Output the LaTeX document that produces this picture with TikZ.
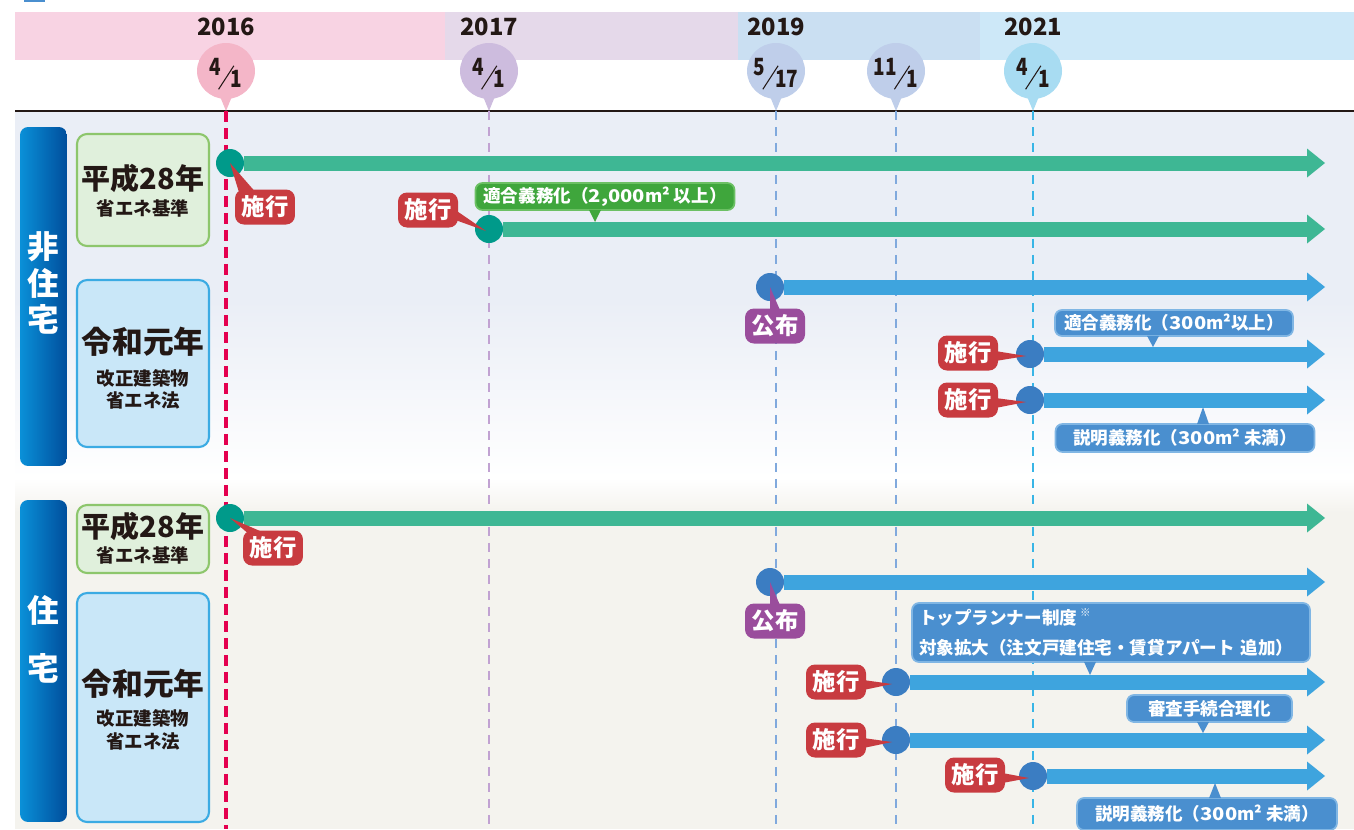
\documentclass[tikz,border=0pt]{standalone}
\usepackage{fontspec}
\setmainfont{Noto Sans CJK JP}
\usetikzlibrary{arrows.meta,calc,shapes.geometric,positioning}

\definecolor{bandA}{HTML}{F8D3E3}
\definecolor{bandB}{HTML}{E5D9EA}
\definecolor{bandC}{HTML}{CADFF2}
\definecolor{bandD}{HTML}{CDE8F8}
\definecolor{balA}{HTML}{F4B6C8}
\definecolor{balB}{HTML}{CDBCDE}
\definecolor{balC}{HTML}{BFCEEA}
\definecolor{balD}{HTML}{A8DCF2}
\definecolor{lnA}{HTML}{E4004F}
\definecolor{lnB}{HTML}{C1A2D2}
\definecolor{lnC}{HTML}{80A9DD}
\definecolor{lnD}{HTML}{38B5E6}
\definecolor{bgBlue}{HTML}{EAEEF6}
\definecolor{bgBeige}{HTML}{F4F3EE}
\definecolor{catL}{HTML}{0A90D8}
\definecolor{catR}{HTML}{004E9C}
\definecolor{gboxF}{HTML}{E0F0DC}
\definecolor{gboxD}{HTML}{8DC66C}
\definecolor{bboxF}{HTML}{C9E7F8}
\definecolor{bboxD}{HTML}{3BABE3}
\definecolor{garC}{HTML}{3EB794}
\definecolor{gdotC}{HTML}{009A8A}
\definecolor{barC}{HTML}{3EA4DE}
\definecolor{bdotC}{HTML}{3B7DC2}
\definecolor{shkC}{HTML}{C83B40}
\definecolor{kfuC}{HTML}{9A4D9C}
\definecolor{gcalC}{HTML}{3FA63C}
\definecolor{gcalD}{HTML}{6CC064}
\definecolor{bcalC}{HTML}{4A8FCF}
\definecolor{bcalD}{HTML}{80B6E4}
\definecolor{ink}{HTML}{231815}

% month/day as a slanted fraction
\newcommand{\mday}[2]{\raisebox{.5em}{\scalebox{.8}[1]{#1}}\kern-.12em\raisebox{-.04cm}{\rotatebox{57}{\rule{.56cm}{.6pt}}}\kern-.14em\scalebox{.8}[1]{#2}}
\newcommand{\widenum}[1]{\scalebox{1.15}[1]{#1}}

\begin{document}
\begin{tikzpicture}[x=0.02cm, y=-0.02cm,
        yr/.style={font=\bfseries\fontsize{13.5}{13.5}\selectfont, text=ink},
        bal/.style={ellipse, minimum width=1.16cm, minimum height=1.12cm, inner sep=0pt},
        dt/.style={inner sep=0pt, font=\bfseries\fontsize{13.5}{13.5}\selectfont, text=ink},
        catbar/.style={rectangle, rounded corners=0.16cm, minimum width=0.94cm, left color=catL, right color=catR},
        cattx/.style={text=white, align=center},
        gbox/.style={rectangle, rounded corners=0.2cm, draw=gboxD, fill=gboxF, line width=1.2pt, minimum width=2.64cm},
        bbox/.style={rectangle, rounded corners=0.2cm, draw=bboxD, fill=bboxF, line width=1.2pt, minimum width=2.64cm},
        big/.style={text=ink, font=\bfseries\fontsize{16.5}{16.5}\selectfont},
        bigr/.style={text=ink, font=\bfseries\fontsize{17.5}{17.5}\selectfont},
        sml/.style={text=ink, font=\bfseries\fontsize{10.5}{10.5}\selectfont},
        gdot/.style={circle, fill=gdotC, minimum size=0.56cm, inner sep=0pt},
        bdot/.style={circle, fill=bdotC, minimum size=0.56cm, inner sep=0pt},
        garr/.style={line width=0.3cm, draw=garC, -{Triangle[width=0.58cm,length=0.36cm,line width=0pt]}},
        barr/.style={line width=0.3cm, draw=barC, -{Triangle[width=0.58cm,length=0.36cm,line width=0pt]}},
        shk/.style={rectangle, rounded corners=0.18cm, fill=shkC, text=white, font=\bfseries\fontsize{13.3}{13.3}\selectfont, minimum width=1.2cm, minimum height=0.7cm, inner sep=0pt},
        kfu/.style={shk, fill=kfuC},
        gcall/.style={rectangle, rounded corners=0.14cm, fill=gcalC, draw=gcalD, line width=1pt, text=white, font=\bfseries\fontsize{10}{10}\selectfont, inner sep=0pt},
        bcall/.style={gcall, fill=bcalC, draw=bcalD},
        vl/.style={dash pattern=on 0.18cm off 0.14cm, line width=1.1pt}
    ]
    \useasboundingbox (0,0) rectangle (1354,829);

    %% ---- backgrounds ----
    \fill[bcalC] (24,0) rectangle (45,1.5);
    \fill[bandA] (15,12) rectangle (445,60);
    \fill[bandB] (445,12) rectangle (738,60);
    \fill[bandC] (738,12) rectangle (980,60);
    \fill[bandD] (980,12) rectangle (1354,60);
    \fill[bgBlue] (15,111) rectangle (1354,300);
    \shade[top color=bgBlue, bottom color=white] (15,300) rectangle (1354,478);
    \shade[top color=white, bottom color=bgBeige] (15,478) rectangle (1354,512);
    \fill[bgBeige] (15,512) rectangle (1354,829);
    \draw[line width=0.04cm, ink] (15,111) -- (1354,111);

    %% ---- years and dates ----
    \node[yr] (y16) at (226,27) {2016};
    \node[yr] (y17) at (489,27) {2017};
    \node[yr] (y19) at (776,27) {2019};
    \node[yr] (y21) at (1033,27) {2021};

    \node[bal, fill=balA] (m1) at (226,71) {};
    \node[bal, fill=balB] (m2) at (489,71) {};
    \node[bal, fill=balC] (m3) at (776,71) {};
    \node[bal, fill=balC] (m4) at (896,71) {};
    \node[bal, fill=balD] (m5) at (1033,71) {};
    \coordinate (t1) at (226,111);  \coordinate (b1) at (226,829);
    \coordinate (t2) at (489,111);  \coordinate (b2) at (489,829);
    \coordinate (t3) at (776,111);  \coordinate (b3) at (776,829);
    \coordinate (t4) at (896,111);  \coordinate (b4) at (896,829);
    \coordinate (t5) at (1033,111); \coordinate (b5) at (1033,829);
    \fill[balA] ($(m1.south)+(-6,-3)$) -- (t1) -- ($(m1.south)+(6,-3)$) -- cycle;
    \fill[balB] ($(m2.south)+(-6,-3)$) -- (t2) -- ($(m2.south)+(6,-3)$) -- cycle;
    \fill[balC] ($(m3.south)+(-6,-3)$) -- (t3) -- ($(m3.south)+(6,-3)$) -- cycle;
    \fill[balC] ($(m4.south)+(-6,-3)$) -- (t4) -- ($(m4.south)+(6,-3)$) -- cycle;
    \fill[balD] ($(m5.south)+(-6,-3)$) -- (t5) -- ($(m5.south)+(6,-3)$) -- cycle;
    \node[dt] at ($(m1)+(0,3)$) {\mday{4}{1}};
    \node[dt] at ($(m2)+(0,3)$) {\mday{4}{1}};
    \node[dt] at ($(m3)+(0,3)$) {\mday{5}{17}};
    \node[dt] at ($(m4)+(0,3)$) {\mday{11}{1}};
    \node[dt] at ($(m5)+(0,3)$) {\mday{4}{1}};

    % dashed date lines
    \draw[vl, lnA, line width=2.3pt, dash pattern=on 0.22cm off 0.12cm] (t1) -- (b1);
    \draw[vl, lnB] (t2) -- (b2);
    \draw[vl, lnC] (t3) -- (b3);
    \draw[vl, lnC] (t4) -- (b4);
    \draw[vl, lnD] (t5) -- (b5);

    %% ---- left column ----
    \node[catbar, minimum height=6.78cm] (nj) at (43.5,296.5) {};
    \node[cattx, font=\bfseries\fontsize{18}{21}\selectfont] at (43.5,283) {非\\住\\宅};
    \node[catbar, minimum height=6.44cm] (jt) at (43.5,661) {};
    \node[cattx, font=\bfseries\fontsize{18}{33}\selectfont] at (43.5,639) {住\\宅};

    \node[gbox, minimum height=2.24cm] (g1) at (143,190) {};
    \node[big] at (143,178) {平成28年};
    \node[sml] at (143,208) {省エネ基準};
    \node[bbox, minimum height=3.34cm] (r1) at (143,363.5) {};
    \node[bigr] at (143,342) {令和元年};
    \node[sml] at (143,378) {改正建築物};
    \node[sml] at (143,400) {省エネ法};

    \node[gbox, minimum height=1.36cm] (g2) at (143,539) {};
    \node[big] at (143,526) {平成28年};
    \node[sml] at (143,555) {省エネ基準};
    \node[bbox, minimum height=4.58cm] (r2) at (143,707.5) {};
    \node[bigr] at (143,684) {令和元年};
    \node[sml] at (143,718) {改正建築物};
    \node[sml] at (143,741) {省エネ法};

    %% ======== non-residential ========
    \coordinate (e1) at (1325,163);
    \coordinate (e2) at (1325,229);
    \coordinate (e3) at (1325,287);
    \coordinate (e4) at (1325,354);
    \coordinate (e5) at (1325,400);
    \node[gdot] (d1) at (230,163) {};
    \node[gdot] (d2) at (489,229) {};
    \node[bdot] (d3) at (770,287) {};
    \node[bdot] (d4) at (1030,354) {};
    \node[bdot] (d5) at (1030,400) {};
    \draw[garr] (d1) -- (e1);
    \draw[garr] (d2) -- (e2);
    \draw[barr] (d3) -- (e3);
    \draw[barr] (d4) -- (e4);
    \draw[barr] (d5) -- (e5);

    % labels
    \node[shk] (s1) at (265,207) {施行};
    \fill[shkC] (d1.center) -- ($(s1.north west)+(4,2)$) -- ($(s1.north west)+(20,2)$) -- cycle;
    \node[shk] (s2) at (428,210) {施行};
    \fill[shkC] ($(s2.east)+(-3,0)$) -- ($(d2.center)+(-3,2)$) -- ($(s2.east)+(-3,10)$) -- cycle;
    \node[kfu] (k1) at (775,326) {公布};
    \fill[kfuC] ($(k1.north)+(-5,2)$) -- (d3.center) -- ($(k1.north)+(5,2)$) -- cycle;
    \node[shk] (s3) at (968,353) {施行};
    \fill[shkC] ($(s3.east)+(-3,-2)$) -- ($(d4.center)+(-4,2)$) -- ($(s3.east)+(-3,8)$) -- cycle;
    \node[shk] (s4) at (968,400) {施行};
    \fill[shkC] ($(s4.east)+(-3,-2)$) -- ($(d5.center)+(-4,2)$) -- ($(s4.east)+(-3,8)$) -- cycle;

    % callouts
    \node[gcall, minimum width=5.18cm, minimum height=0.54cm] (c1) at (605,196.5) {適合義務化（\widenum{2,000}m² 以上）};
    \coordinate (p1) at (595,222);
    \fill[gcalC] ($(p1 |- c1.south)+(-6,-1)$) -- (p1) -- ($(p1 |- c1.south)+(6,-1)$) -- cycle;
    \node[bcall, minimum width=4.76cm, minimum height=0.52cm] (c2) at (1174,323) {適合義務化（\widenum{300}m²以上）};
    \coordinate (p2) at (1153,347);
    \fill[bcalC] ($(p2 |- c2.south)+(-6,-1)$) -- (p2) -- ($(p2 |- c2.south)+(6,-1)$) -- cycle;
    \node[bcall, minimum width=5.18cm, minimum height=0.56cm] (c3) at (1185,438) {説明義務化（\widenum{300}m² 未満）};
    \coordinate (p3) at (1203,407);
    \fill[bcalC] ($(p3 |- c3.north)+(-6,1)$) -- (p3) -- ($(p3 |- c3.north)+(6,1)$) -- cycle;

    %% ======== residential ========
    \coordinate (e6) at (1325,518);
    \coordinate (e7) at (1325,582);
    \coordinate (e8) at (1325,682);
    \coordinate (e9) at (1325,740);
    \coordinate (e10) at (1325,776);
    \node[gdot] (d6) at (230,518) {};
    \node[bdot] (d7) at (770,582) {};
    \node[bdot] (d8) at (896,682) {};
    \node[bdot] (d9) at (896,740) {};
    \node[bdot] (d10) at (1033,776) {};
    \draw[garr] (d6) -- (e6);
    \draw[barr] (d7) -- (e7);
    \draw[barr] (d8) -- (e8);
    \draw[barr] (d9) -- (e9);
    \draw[barr] (d10) -- (e10);

    % labels
    \node[shk] (s5) at (273,548) {施行};
    \fill[shkC] (d6.center) -- ($(s5.north west)+(4,2)$) -- ($(s5.north west)+(20,2)$) -- cycle;
    \node[kfu] (k2) at (775,621) {公布};
    \fill[kfuC] ($(k2.north)+(-5,2)$) -- (d7.center) -- ($(k2.north)+(5,2)$) -- cycle;
    \node[shk] (s6) at (836,682) {施行};
    \fill[shkC] ($(s6.east)+(-3,-2)$) -- ($(d8.center)+(-4,2)$) -- ($(s6.east)+(-3,8)$) -- cycle;
    \node[shk] (s7) at (836,740) {施行};
    \fill[shkC] ($(s7.east)+(-3,-2)$) -- ($(d9.center)+(-4,2)$) -- ($(s7.east)+(-3,8)$) -- cycle;
    \node[shk] (s8) at (975,775) {施行};
    \fill[shkC] ($(s8.east)+(-3,-2)$) -- ($(d10.center)+(-4,2)$) -- ($(s8.east)+(-3,8)$) -- cycle;

    % callouts
    \node[bcall, minimum width=7.96cm, minimum height=1.18cm, text width=7.68cm, align=left,
          font=\bfseries\fontsize{10}{17}\selectfont] (c4) at (1111,632.5)
          {トップランナー制度\,\raisebox{.5em}{\fontsize{6}{6}\selectfont ※}\\対象拡大（注文戸建住宅・賃貸アパート 追加）};
    \coordinate (p4) at (1090,675);
    \fill[bcalC] ($(p4 |- c4.south)+(-6,-1)$) -- (p4) -- ($(p4 |- c4.south)+(6,-1)$) -- cycle;
    \node[bcall, minimum width=3.3cm, minimum height=0.54cm] (c5) at (1209.5,708.5) {審査手続合理化};
    \coordinate (p5) at (1203,733);
    \fill[bcalC] ($(p5 |- c5.south)+(-6,-1)$) -- (p5) -- ($(p5 |- c5.south)+(6,-1)$) -- cycle;
    \node[bcall, minimum width=5.2cm, minimum height=0.64cm] (c6) at (1207,814) {説明義務化（\widenum{300}m² 未満）};
    \coordinate (p6) at (1215,783);
    \fill[bcalC] ($(p6 |- c6.north)+(-6,1)$) -- (p6) -- ($(p6 |- c6.north)+(6,1)$) -- cycle;

    \end{tikzpicture}
\end{document}
